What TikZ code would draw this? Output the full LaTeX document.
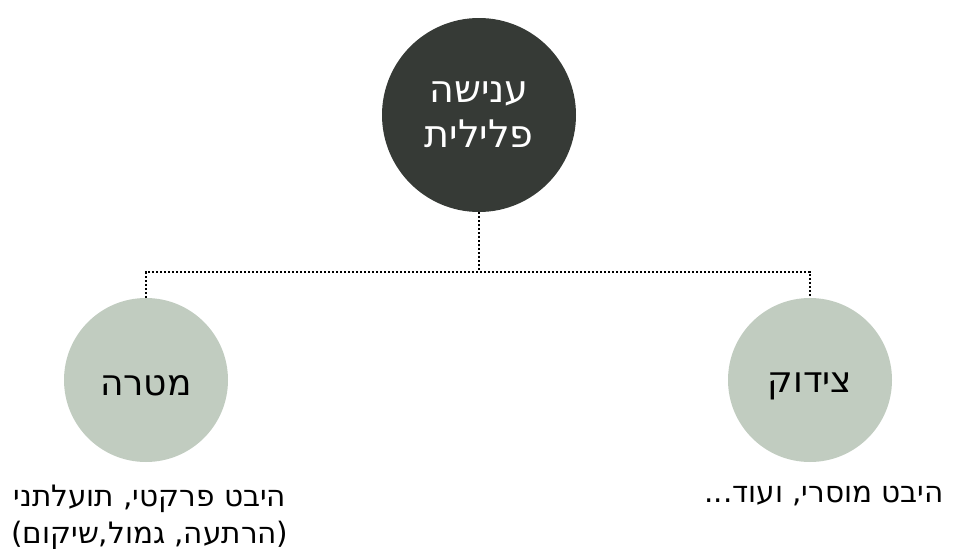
\documentclass[tikz,border=0pt]{standalone}
\usepackage{fontspec}
\setmainfont{DejaVu Sans}
\newfontfamily\hebfont[Script=Hebrew]{DejaVu Sans}
\TeXXeTstate=1
\definecolor{hubfill}{HTML}{363A36}
\definecolor{leaffill}{HTML}{C1CCC0}
\newcommand{\lowered}[1]{\raisebox{-6pt}[\height][\depth]{#1}}
\begin{document}
\begin{tikzpicture}[x=1pt,y=-1pt,
  hub/.style={circle,fill=hubfill,inner sep=0pt,minimum size=194pt,
    text=white,align=center,font=\hebfont\fontsize{38}{45}\selectfont},
  leaf/.style={circle,fill=leaffill,inner sep=0pt,minimum size=164pt,
    text=black,font=\hebfont\fontsize{36}{44}\selectfont},
  caption/.style={inner sep=0pt,align=center,text=black,
    font=\hebfont\fontsize{29.5}{37}\selectfont},
  dotline/.style={draw=black,line width=2pt,dash pattern=on 2pt off 2pt}]
\useasboundingbox (0,0) rectangle (954,549);

% central concept and its two branches
\node[hub] (top) at (479,115) {\beginR ענישה\endR\\\beginR פלילית\endR};
\node[leaf] (left) at (146,380) {\lowered{\beginR מטרה\endR}};
\node[leaf] (right) at (810,380) {\lowered{\beginR צידוק\endR}};

% dotted tree connector
\coordinate (joint) at (479,272);
\draw[dotline] (top.south) -- (joint);
\draw[dotline] (left.north) |- (joint) -| (right.north);

% captions under the branches
\node[caption] (captleft) at (150,517) {\beginR היבט פרקטי, תועלתני\endR\\\beginR (הרתעה, גמול,שיקום)\endR};
\node[caption] (captright) at (824,496) {\beginR היבט מוסרי, ועוד...\endR};
\end{tikzpicture}
\end{document}
